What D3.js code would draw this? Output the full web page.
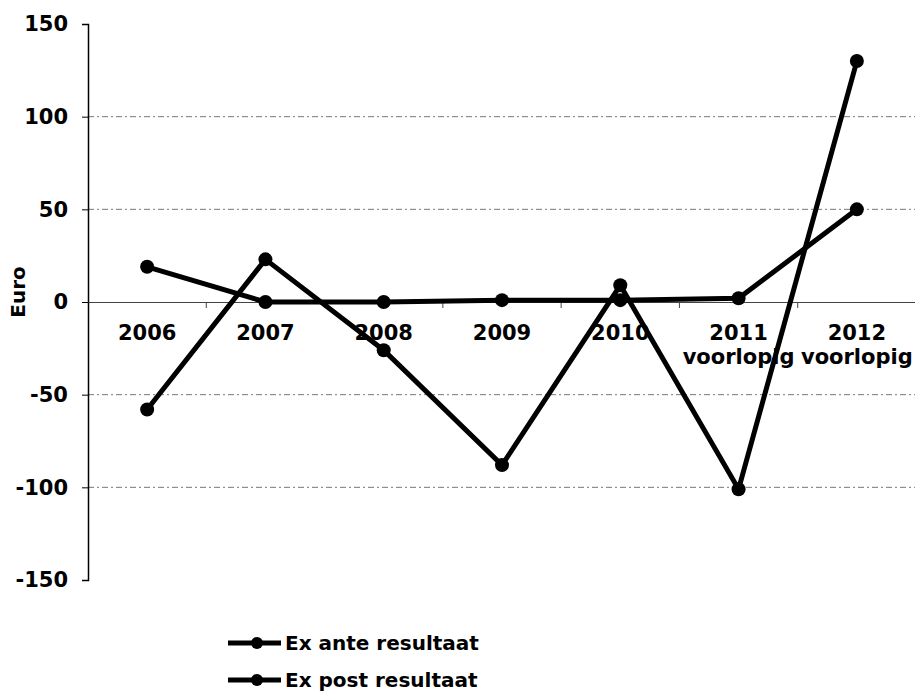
<!DOCTYPE html>
<html>
<head>
<meta charset="utf-8">
<script src="https://cdn.jsdelivr.net/npm/d3@7"></script>
<style>
body { margin: 0; background: #fff; }
text { font-family: "DejaVu Sans", Verdana, sans-serif; font-weight: bold; fill: #000; }
</style>
</head>
<body>
<svg class="chart"></svg>
<script>
var width = 915;
var height = 691;

var years = ["2006", "2007", "2008", "2009", "2010", "2011", "2012"];
var yearSub = ["", "", "", "", "", "voorlopig", "voorlopig"];
var exAnte = [-58, 23, -26, -88, 9, -101, 130];
var exPost = [19, 0, 0, 1, 1, 2, 50];
var yTicks = [-150, -100, -50, 0, 50, 100, 150];
var seriesNames = ["Ex ante resultaat", "Ex post resultaat"];

var plot = { left: 88, right: 916, top: 24, bottom: 580 };

var chart = d3.select(".chart")
    .attr("width", width)
    .attr("height", height);

var x = d3.scaleBand()
    .domain(years)
    .range([plot.left, plot.right]);

var y = d3.scaleLinear()
    .domain([-150, 150])
    .range([plot.bottom, plot.top]);

// gridlines
chart.append("g")
    .selectAll("line")
    .data(yTicks.filter(function(d) { return d != 0 && Math.abs(d) != 150; }))
    .enter()
    .append("line")
    .attr("x1", plot.left)
    .attr("x2", plot.right)
    .attr("y1", function(d) { return y(d); })
    .attr("y2", function(d) { return y(d); })
    .attr("stroke", "#777")
    .attr("stroke-width", 1)
    .attr("stroke-dasharray", "6,3,2,3");

// y axis (plain hyphen for negatives, like the original)
var yAxis = chart.append("g")
    .attr("transform", "translate(" + plot.left + ",0)")
    .call(d3.axisLeft(y).tickValues(yTicks).tickSize(6).tickPadding(14)
        .tickFormat(function(d) { return String(d); }));
yAxis.select(".domain").attr("stroke", "#000").attr("stroke-width", 1.5);
yAxis.selectAll(".tick line").attr("stroke", "#000");
yAxis.selectAll("text").style("font-size", "21px");

// x axis on zero line
var xAxis = chart.append("g")
    .attr("transform", "translate(0," + y(0) + ")")
    .call(d3.axisBottom(x).tickSize(0).tickPadding(0));
xAxis.select(".domain").attr("stroke", "#444").attr("stroke-width", 1.2);
xAxis.selectAll(".tick text").remove();

// category boundary ticks
chart.append("g")
    .selectAll("line")
    .data(years.slice(1))
    .enter()
    .append("line")
    .attr("x1", function(d) { return x(d); })
    .attr("x2", function(d) { return x(d); })
    .attr("y1", y(0))
    .attr("y2", y(0) + 6)
    .attr("stroke", "#444");

var xl = chart.append("g")
    .selectAll("text")
    .data(years)
    .enter()
    .append("text")
    .attr("x", function(d) { return x(d) + x.bandwidth() / 2; })
    .attr("y", y(0) + 38)
    .attr("text-anchor", "middle")
    .style("font-size", "21px");
xl.append("tspan")
    .text(function(d) { return d; });
xl.append("tspan")
    .attr("x", function(d) { return x(d) + x.bandwidth() / 2; })
    .attr("dy", 24)
    .text(function(d, i) { return yearSub[i]; });

// y axis title
chart.append("text")
    .attr("transform", "translate(25," + (y(0) - 10) + ") rotate(-90)")
    .attr("text-anchor", "middle")
    .style("font-size", "20px")
    .text("Euro");

var line = d3.line()
    .x(function(d, i) { return x(years[i]) + x.bandwidth() / 2; })
    .y(function(d) { return y(d); });

[exAnte, exPost].forEach(function(s) {
    chart.append("path")
        .datum(s)
        .attr("d", line)
        .attr("fill", "none")
        .attr("stroke", "#000")
        .attr("stroke-width", 5);
    chart.append("g")
        .selectAll("circle")
        .data(s)
        .enter()
        .append("circle")
        .attr("cx", function(d, i) { return x(years[i]) + x.bandwidth() / 2; })
        .attr("cy", function(d) { return y(d); })
        .attr("r", 7)
        .attr("fill", "#000");
});

// legend
var legend = chart.append("g")
    .selectAll("g")
    .data(seriesNames)
    .enter()
    .append("g")
    .attr("transform", function(d, i) { return "translate(228," + (643 + i * 37) + ")"; });
legend.append("line")
    .attr("x1", 0)
    .attr("x2", 53)
    .attr("stroke", "#000")
    .attr("stroke-width", 5);
legend.append("circle")
    .attr("cx", 29)
    .attr("r", 6)
    .attr("fill", "#000");
legend.append("text")
    .attr("x", 57)
    .attr("dy", "0.35em")
    .style("font-size", "20px")
    .text(function(d) { return d; });
</script>
</body>
</html>
